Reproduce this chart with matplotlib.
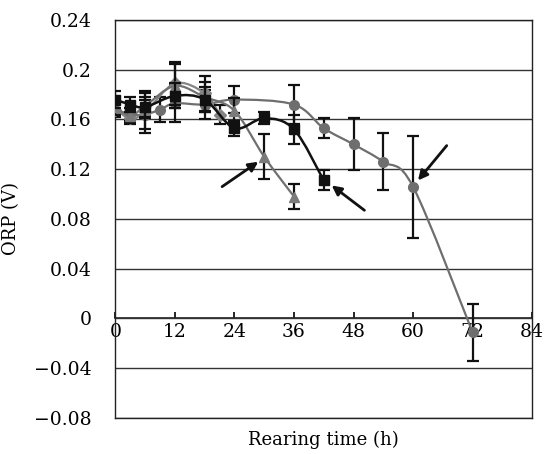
import matplotlib
matplotlib.use("Agg")
import matplotlib.pyplot as plt
from matplotlib.path import Path
from matplotlib.patches import PathPatch

plt.rcParams["font.family"] = ["DejaVu Serif"]

# Rearing time (h) and ORP (V) for the four series
SQ_T = [0, 3, 6, 12, 18, 24, 30, 36, 42]
SQ_V = [0.176, 0.172, 0.170, 0.179, 0.176, 0.153, 0.161, 0.152, 0.111]
SQ_E = [0.007, 0.006, 0.008, 0.010, 0.010, 0.006, 0.005, 0.012, 0.008]

TR_T = [0, 3, 6, 12, 18, 24, 30, 36]
TR_V = [0.170, 0.163, 0.171, 0.187, 0.178, 0.167, 0.130, 0.098]
TR_E = [0.006, 0.006, 0.010, 0.018, 0.012, 0.010, 0.018, 0.010]

DI_T = [0, 3, 6, 12, 18, 21]
DI_V = [0.168, 0.161, 0.166, 0.189, 0.181, 0.164]
DI_E = [0.006, 0.005, 0.017, 0.017, 0.014, 0.008]

CI_T = [0, 3, 6, 9, 12, 18, 24, 36, 42, 48, 54, 60, 72]
CI_V = [0.168, 0.164, 0.164, 0.168, 0.173, 0.172, 0.176, 0.172, 0.153, 0.140, 0.126, 0.106, -0.011]
CI_E = [0.005, 0.005, 0.012, 0.010, 0.015, 0.012, 0.011, 0.016, 0.008, 0.021, 0.023, 0.041, 0.023]

X_TICKS = [0, 12, 24, 36, 48, 60, 72, 84]
Y_TICKS = [0.24, 0.2, 0.16, 0.12, 0.08, 0.04, 0, -0.04, -0.08]
Y_LABELS = ["0.24", "0.2", "0.16", "0.12", "0.08", "0.04", "0", "\u22120.04", "\u22120.08"]

# arrows: (tail, head) in data units
ARROWS = [((21.5, 0.106), (28.8, 0.126)),
          ((50.2, 0.087), (43.6, 0.107)),
          ((66.8, 0.139), (61.0, 0.111))]


def smooth_path(t, v):
    """Excel-style smoothed line through the points (cubic Bezier segments)."""
    pts = list(zip(t, v))
    verts = [pts[0]]
    codes = [Path.MOVETO]
    n = len(pts)
    for i in range(n - 1):
        p0 = pts[i - 1] if i > 0 else pts[i]
        p1 = pts[i]
        p2 = pts[i + 1]
        p3 = pts[i + 2] if i + 2 < n else pts[i + 1]
        c1 = (p1[0] + (p2[0] - p0[0]) / 6, p1[1] + (p2[1] - p0[1]) / 6)
        c2 = (p2[0] - (p3[0] - p1[0]) / 6, p2[1] - (p3[1] - p1[1]) / 6)
        verts += [c1, c2, p2]
        codes += [Path.CURVE4] * 3
    return Path(verts, codes)


def series(ax, t, v, e, marker, color, lcolor, lw, ms, z):
    ax.add_patch(PathPatch(smooth_path(t, v), facecolor="none", edgecolor=lcolor,
                           linewidth=lw, zorder=z))
    ax.errorbar(t, v, yerr=e, fmt="none", ecolor="#111111", elinewidth=1.6,
                capsize=4.5, capthick=1.6, zorder=z + 0.5)
    ax.plot(t, v, linestyle="none", marker=marker, markersize=ms, color=color,
            markeredgecolor=color, zorder=z + 1)


fig = plt.figure(figsize=(5.46, 4.54), dpi=100, facecolor="white")
ax = fig.add_axes([0.2115, 0.0793, 0.7629, 0.8767])
ax.set_xlim(0, 84)
ax.set_ylim(-0.08, 0.24)

ax.set_yticks(Y_TICKS)
ax.set_yticklabels(Y_LABELS, fontsize=13.5)
ax.tick_params(axis="y", length=0, pad=17)
ax.tick_params(axis="x", bottom=False, labelbottom=False)
ax.grid(axis="y", color="#333333", linewidth=1.0)
ax.set_axisbelow(True)
for s in ax.spines.values():
    s.set_color("#222222")
    s.set_linewidth(1.0)

# x axis crosses at ORP = 0
sec = ax.secondary_xaxis(0.08 / 0.32)
sec.set_xticks(X_TICKS)
sec.set_xticklabels([str(x) for x in X_TICKS], fontsize=13.5)
sec.tick_params(direction="in", length=4, width=1.2, pad=3)
sec.spines["bottom"].set_color("#222222")
sec.spines["bottom"].set_linewidth(1.2)

series(ax, CI_T, CI_V, CI_E, "o", "#6e6e6e", "#6e6e6e", 1.6, 7, 2)
series(ax, DI_T, DI_V, DI_E, "D", "#858585", "#858585", 1.6, 6, 3)
series(ax, TR_T, TR_V, TR_E, "^", "#7a7a7a", "#707070", 1.6, 7, 4)
series(ax, SQ_T, SQ_V, SQ_E, "s", "#111111", "#111111", 1.8, 6.5, 5)

for tail, head in ARROWS:
    ax.annotate("", xy=head, xytext=tail,
                arrowprops=dict(arrowstyle="-|>", color="#111111", lw=2.0,
                                mutation_scale=14, shrinkA=0, shrinkB=0),
                zorder=8)

ax.set_ylabel("ORP (V)", fontsize=13)
ax.yaxis.set_label_coords(-0.229, 0.5)
ax.set_xlabel("Rearing time (h)", fontsize=13)
ax.xaxis.set_label_coords(0.5, -0.033)

fig.savefig("out.png", dpi=100, facecolor="white")
